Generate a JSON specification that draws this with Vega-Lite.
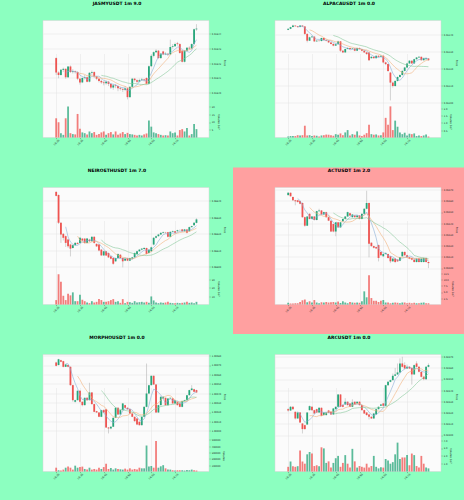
{
"$schema":"https://vega.github.io/schema/vega-lite/v6.json",
"background":"#8cffc0",
"padding":{"left":42,"top":0.5,"right":0,"bottom":20},
"datasets":{
"jasmy":[
{"i":0,"o":0.0164235,"h":0.016424,"l":0.016412,"c":0.0164137,"v":12.4},
{"i":1,"o":0.0164137,"h":0.0164145,"l":0.0164098,"c":0.016412,"v":9.8},
{"i":2,"o":0.016412,"h":0.016416,"l":0.0164115,"c":0.0164155,"v":2.8},
{"i":3,"o":0.0164155,"h":0.016417,"l":0.016414,"c":0.0164162,"v":1.7},
{"i":4,"o":0.0164162,"h":0.0164165,"l":0.0164095,"c":0.0164105,"v":12.4},
{"i":5,"o":0.0164105,"h":0.016418,"l":0.01641,"c":0.0164178,"v":20},
{"i":6,"o":0.0164178,"h":0.0164185,"l":0.0164135,"c":0.016414,"v":2.8},
{"i":7,"o":0.016414,"h":0.016416,"l":0.016413,"c":0.0164145,"v":2.2},
{"i":8,"o":0.0164145,"h":0.016415,"l":0.016413,"c":0.016414,"v":2},
{"i":9,"o":0.016414,"h":0.0164145,"l":0.0164085,"c":0.0164095,"v":15.2},
{"i":10,"o":0.0164095,"h":0.01641,"l":0.0164055,"c":0.016407,"v":5.7},
{"i":11,"o":0.016407,"h":0.0164105,"l":0.0164065,"c":0.01641,"v":3.3},
{"i":12,"o":0.01641,"h":0.016412,"l":0.016409,"c":0.0164105,"v":2.8},
{"i":13,"o":0.0164105,"h":0.016411,"l":0.016407,"c":0.0164075,"v":2},
{"i":14,"o":0.0164075,"h":0.016414,"l":0.016407,"c":0.0164135,"v":3.9},
{"i":15,"o":0.0164135,"h":0.016415,"l":0.016412,"c":0.016414,"v":2.8},
{"i":16,"o":0.016414,"h":0.0164145,"l":0.01641,"c":0.016411,"v":3.5},
{"i":17,"o":0.016411,"h":0.0164115,"l":0.0164085,"c":0.0164095,"v":1.7},
{"i":18,"o":0.0164095,"h":0.01641,"l":0.016407,"c":0.016408,"v":2.2},
{"i":19,"o":0.016408,"h":0.016409,"l":0.016406,"c":0.016407,"v":3.3},
{"i":20,"o":0.016407,"h":0.016408,"l":0.016405,"c":0.0164065,"v":3.9},
{"i":21,"o":0.0164065,"h":0.0164085,"l":0.0164055,"c":0.0164075,"v":1.7},
{"i":22,"o":0.0164075,"h":0.016408,"l":0.0164045,"c":0.016406,"v":2.8},
{"i":23,"o":0.016406,"h":0.0164065,"l":0.0164025,"c":0.0164035,"v":3.5},
{"i":24,"o":0.0164035,"h":0.016406,"l":0.016402,"c":0.016405,"v":2},
{"i":25,"o":0.016405,"h":0.016406,"l":0.016403,"c":0.0164045,"v":3.9},
{"i":26,"o":0.0164045,"h":0.016405,"l":0.016401,"c":0.016403,"v":1.7},
{"i":27,"o":0.016403,"h":0.016404,"l":0.0164015,"c":0.0164025,"v":2.6},
{"i":28,"o":0.0164025,"h":0.0164035,"l":0.0164005,"c":0.016402,"v":3.5},
{"i":29,"o":0.016402,"h":0.0164045,"l":0.016401,"c":0.016403,"v":2.2},
{"i":30,"o":0.016403,"h":0.0164035,"l":0.0163955,"c":0.016397,"v":3},
{"i":31,"o":0.016397,"h":0.0164045,"l":0.0163965,"c":0.016404,"v":2.2},
{"i":32,"o":0.016404,"h":0.01641,"l":0.0164035,"c":0.0164095,"v":2},
{"i":33,"o":0.0164095,"h":0.01641,"l":0.0164075,"c":0.0164085,"v":1.7},
{"i":34,"o":0.0164085,"h":0.016409,"l":0.0164065,"c":0.0164075,"v":1.3},
{"i":35,"o":0.0164075,"h":0.0164095,"l":0.016407,"c":0.0164085,"v":1.7},
{"i":36,"o":0.0164085,"h":0.01641,"l":0.016408,"c":0.016409,"v":1.3},
{"i":37,"o":0.016409,"h":0.0164095,"l":0.0164075,"c":0.0164085,"v":2},
{"i":38,"o":0.01641,"h":0.0164105,"l":0.0164055,"c":0.016406,"v":2.6},
{"i":39,"o":0.016406,"h":0.0164185,"l":0.0164055,"c":0.016418,"v":10.9},
{"i":40,"o":0.016418,"h":0.016426,"l":0.0164175,"c":0.016425,"v":7},
{"i":41,"o":0.016425,"h":0.016428,"l":0.016424,"c":0.0164275,"v":3.3},
{"i":42,"o":0.0164275,"h":0.0164295,"l":0.016427,"c":0.0164285,"v":2.8},
{"i":43,"o":0.0164285,"h":0.016429,"l":0.016423,"c":0.0164235,"v":2.2},
{"i":44,"o":0.0164235,"h":0.016427,"l":0.016423,"c":0.0164265,"v":1.7},
{"i":45,"o":0.016428,"h":0.0164285,"l":0.0164255,"c":0.016426,"v":1.3},
{"i":46,"o":0.016426,"h":0.0164275,"l":0.0164255,"c":0.0164265,"v":1.5},
{"i":47,"o":0.0164265,"h":0.016427,"l":0.016425,"c":0.016426,"v":1.3},
{"i":48,"o":0.016426,"h":0.016436,"l":0.0164255,"c":0.016431,"v":3.9},
{"i":49,"o":0.016431,"h":0.016433,"l":0.01643,"c":0.0164315,"v":2.8},
{"i":50,"o":0.0164315,"h":0.016434,"l":0.016431,"c":0.016433,"v":3.3},
{"i":51,"o":0.0164335,"h":0.0164345,"l":0.016432,"c":0.016433,"v":1.3},
{"i":52,"o":0.016433,"h":0.0164335,"l":0.0164265,"c":0.016427,"v":4.8},
{"i":53,"o":0.0164285,"h":0.016429,"l":0.0164205,"c":0.016421,"v":5.4},
{"i":54,"o":0.016421,"h":0.016429,"l":0.0164205,"c":0.0164285,"v":3.9},
{"i":55,"o":0.0164285,"h":0.016431,"l":0.016428,"c":0.0164305,"v":6.1},
{"i":56,"o":0.0164305,"h":0.0164315,"l":0.016429,"c":0.01643,"v":1.3},
{"i":57,"o":0.01643,"h":0.0164335,"l":0.0164295,"c":0.016433,"v":2.2},
{"i":58,"o":0.016433,"h":0.0164435,"l":0.0164325,"c":0.016443,"v":8.7},
{"i":59,"o":0.016443,"h":0.0164465,"l":0.016442,"c":0.0164435,"v":5.4}
],
"alpaca":[
{"i":0,"o":0.03143,"h":0.03144,"l":0.031428,"c":0.031436,"v":0.07},
{"i":1,"o":0.031436,"h":0.031448,"l":0.031434,"c":0.031446,"v":0.1},
{"i":2,"o":0.031446,"h":0.03146,"l":0.031444,"c":0.031455,"v":0.1},
{"i":3,"o":0.031455,"h":0.031457,"l":0.031448,"c":0.031451,"v":0.1},
{"i":4,"o":0.031451,"h":0.031453,"l":0.031444,"c":0.031446,"v":0.16},
{"i":5,"o":0.031446,"h":0.031457,"l":0.031444,"c":0.031455,"v":0.14},
{"i":6,"o":0.031455,"h":0.031457,"l":0.031446,"c":0.03145,"v":0.16},
{"i":7,"o":0.03145,"h":0.031452,"l":0.0314,"c":0.031406,"v":0.81},
{"i":8,"o":0.031406,"h":0.03141,"l":0.031356,"c":0.031366,"v":0.14},
{"i":9,"o":0.031366,"h":0.03139,"l":0.031364,"c":0.031386,"v":0.16},
{"i":10,"o":0.031386,"h":0.031395,"l":0.031382,"c":0.03139,"v":0.1},
{"i":11,"o":0.03139,"h":0.031392,"l":0.031358,"c":0.031362,"v":0.14},
{"i":12,"o":0.031362,"h":0.03137,"l":0.03136,"c":0.031366,"v":0.12},
{"i":13,"o":0.031366,"h":0.03137,"l":0.03136,"c":0.031364,"v":0.07},
{"i":14,"o":0.031364,"h":0.031384,"l":0.031362,"c":0.031382,"v":0.14},
{"i":15,"o":0.031382,"h":0.031384,"l":0.031366,"c":0.03137,"v":0.16},
{"i":16,"o":0.03137,"h":0.031374,"l":0.031362,"c":0.031366,"v":0.2},
{"i":17,"o":0.031366,"h":0.031368,"l":0.031352,"c":0.031356,"v":0.19},
{"i":18,"o":0.031356,"h":0.031358,"l":0.031344,"c":0.031347,"v":0.16},
{"i":19,"o":0.031347,"h":0.03135,"l":0.031333,"c":0.031337,"v":0.12},
{"i":20,"o":0.031337,"h":0.03135,"l":0.031335,"c":0.031345,"v":0.23},
{"i":21,"o":0.031345,"h":0.031366,"l":0.031343,"c":0.031362,"v":0.19},
{"i":22,"o":0.031362,"h":0.031364,"l":0.0313,"c":0.031307,"v":0.28},
{"i":23,"o":0.031307,"h":0.03131,"l":0.031293,"c":0.031297,"v":0.16},
{"i":24,"o":0.031297,"h":0.03132,"l":0.031295,"c":0.031317,"v":0.35},
{"i":25,"o":0.031317,"h":0.031327,"l":0.031315,"c":0.031323,"v":0.51},
{"i":26,"o":0.031323,"h":0.031325,"l":0.031313,"c":0.031317,"v":0.14},
{"i":27,"o":0.031317,"h":0.031323,"l":0.031314,"c":0.03132,"v":0.23},
{"i":28,"o":0.03132,"h":0.031322,"l":0.031304,"c":0.031307,"v":0.19},
{"i":29,"o":0.031307,"h":0.031325,"l":0.031305,"c":0.031323,"v":0.42},
{"i":30,"o":0.031323,"h":0.031326,"l":0.031314,"c":0.031317,"v":0.14},
{"i":31,"o":0.031317,"h":0.03132,"l":0.031304,"c":0.031307,"v":0.1},
{"i":32,"o":0.031307,"h":0.03131,"l":0.031294,"c":0.031297,"v":0.19},
{"i":33,"o":0.031297,"h":0.0313,"l":0.031283,"c":0.031287,"v":0.3},
{"i":34,"o":0.031297,"h":0.0313,"l":0.031247,"c":0.031251,"v":0.88},
{"i":35,"o":0.031263,"h":0.031275,"l":0.03126,"c":0.031271,"v":0.23},
{"i":36,"o":0.031271,"h":0.031274,"l":0.03126,"c":0.031263,"v":0.19},
{"i":37,"o":0.031263,"h":0.03128,"l":0.03126,"c":0.031277,"v":0.21},
{"i":38,"o":0.031277,"h":0.03128,"l":0.031268,"c":0.031271,"v":0.14},
{"i":39,"o":0.031271,"h":0.03128,"l":0.031268,"c":0.031277,"v":0.16},
{"i":40,"o":0.031277,"h":0.03128,"l":0.031233,"c":0.031238,"v":0.35},
{"i":41,"o":0.031238,"h":0.031242,"l":0.031222,"c":0.031228,"v":1.35},
{"i":42,"o":0.031228,"h":0.03123,"l":0.031182,"c":0.031188,"v":0.88},
{"i":43,"o":0.031178,"h":0.031182,"l":0.031014,"c":0.031119,"v":2.14},
{"i":44,"o":0.031119,"h":0.031125,"l":0.03109,"c":0.031099,"v":0.51},
{"i":45,"o":0.031099,"h":0.031132,"l":0.031095,"c":0.031129,"v":1.16},
{"i":46,"o":0.031129,"h":0.031156,"l":0.031125,"c":0.031152,"v":0.74},
{"i":47,"o":0.031152,"h":0.031168,"l":0.031148,"c":0.031164,"v":0.35},
{"i":48,"o":0.031164,"h":0.031192,"l":0.03116,"c":0.031188,"v":0.23},
{"i":49,"o":0.031188,"h":0.031212,"l":0.031185,"c":0.031208,"v":0.33},
{"i":50,"o":0.031208,"h":0.031236,"l":0.031205,"c":0.031232,"v":0.14},
{"i":51,"o":0.031232,"h":0.031252,"l":0.031228,"c":0.031248,"v":0.26},
{"i":52,"o":0.031248,"h":0.03125,"l":0.031228,"c":0.031232,"v":0.23},
{"i":53,"o":0.031232,"h":0.03126,"l":0.03123,"c":0.031257,"v":0.28},
{"i":54,"o":0.031257,"h":0.03127,"l":0.031254,"c":0.031267,"v":0.1},
{"i":55,"o":0.031267,"h":0.031274,"l":0.031264,"c":0.031271,"v":0.14},
{"i":56,"o":0.031271,"h":0.031273,"l":0.031248,"c":0.031251,"v":0.1},
{"i":57,"o":0.031251,"h":0.031266,"l":0.031248,"c":0.031263,"v":0.14},
{"i":58,"o":0.031257,"h":0.031267,"l":0.031254,"c":0.031263,"v":0.2},
{"i":59,"o":0.031261,"h":0.031264,"l":0.031248,"c":0.031251,"v":0.07}
],
"neiro":[
{"i":0,"o":0.066455,"h":0.06646,"l":0.066428,"c":0.066431,"v":5.3},
{"i":1,"o":0.066437,"h":0.06644,"l":0.06626,"c":0.066267,"v":36.4},
{"i":2,"o":0.066267,"h":0.06627,"l":0.066145,"c":0.066196,"v":27.5},
{"i":3,"o":0.0662,"h":0.066205,"l":0.06616,"c":0.066176,"v":10.5},
{"i":4,"o":0.066186,"h":0.06619,"l":0.06612,"c":0.066145,"v":5.3},
{"i":5,"o":0.066165,"h":0.06617,"l":0.066115,"c":0.066124,"v":13},
{"i":6,"o":0.066135,"h":0.06614,"l":0.066063,"c":0.06611,"v":11},
{"i":7,"o":0.066114,"h":0.066135,"l":0.06611,"c":0.066131,"v":14.6},
{"i":8,"o":0.066131,"h":0.06615,"l":0.066128,"c":0.066145,"v":4},
{"i":9,"o":0.066145,"h":0.06615,"l":0.066135,"c":0.066139,"v":4},
{"i":10,"o":0.066145,"h":0.06618,"l":0.066142,"c":0.066176,"v":11.7},
{"i":11,"o":0.066171,"h":0.066175,"l":0.066155,"c":0.066159,"v":5.7},
{"i":12,"o":0.066171,"h":0.066175,"l":0.06614,"c":0.066145,"v":4},
{"i":13,"o":0.066145,"h":0.066175,"l":0.066142,"c":0.066171,"v":2.4},
{"i":14,"o":0.066165,"h":0.06617,"l":0.06615,"c":0.066155,"v":1.6},
{"i":15,"o":0.066155,"h":0.066186,"l":0.066152,"c":0.066182,"v":4},
{"i":16,"o":0.066182,"h":0.066186,"l":0.06614,"c":0.066145,"v":2.4},
{"i":17,"o":0.066139,"h":0.066142,"l":0.06612,"c":0.066124,"v":3.2},
{"i":18,"o":0.066135,"h":0.066138,"l":0.066094,"c":0.066098,"v":6.5},
{"i":19,"o":0.066104,"h":0.066108,"l":0.066065,"c":0.066069,"v":5.3},
{"i":20,"o":0.066069,"h":0.066098,"l":0.066065,"c":0.066094,"v":3.2},
{"i":21,"o":0.066094,"h":0.066096,"l":0.066065,"c":0.066069,"v":3.2},
{"i":22,"o":0.066084,"h":0.066086,"l":0.066053,"c":0.066057,"v":4},
{"i":23,"o":0.066063,"h":0.066066,"l":0.066045,"c":0.066049,"v":5.3},
{"i":24,"o":0.066053,"h":0.066056,"l":0.066012,"c":0.066018,"v":6.5},
{"i":25,"o":0.066033,"h":0.066056,"l":0.06603,"c":0.066053,"v":3.2},
{"i":26,"o":0.066053,"h":0.066082,"l":0.06605,"c":0.066078,"v":4},
{"i":27,"o":0.066073,"h":0.066076,"l":0.06605,"c":0.066053,"v":2},
{"i":28,"o":0.066053,"h":0.066056,"l":0.065996,"c":0.066033,"v":6.5},
{"i":29,"o":0.066037,"h":0.066052,"l":0.066034,"c":0.066049,"v":1.6},
{"i":30,"o":0.066053,"h":0.066056,"l":0.066034,"c":0.066037,"v":3.2},
{"i":31,"o":0.066037,"h":0.066056,"l":0.066034,"c":0.066053,"v":2.8},
{"i":32,"o":0.066049,"h":0.06606,"l":0.066045,"c":0.066057,"v":2},
{"i":33,"o":0.066057,"h":0.066086,"l":0.066055,"c":0.066084,"v":4},
{"i":34,"o":0.066078,"h":0.066098,"l":0.066075,"c":0.066094,"v":2.4},
{"i":35,"o":0.066094,"h":0.066108,"l":0.066092,"c":0.066104,"v":2.8},
{"i":36,"o":0.066104,"h":0.066114,"l":0.0661,"c":0.06611,"v":3.2},
{"i":37,"o":0.066108,"h":0.06612,"l":0.066105,"c":0.066114,"v":2.4},
{"i":38,"o":0.066114,"h":0.066116,"l":0.066075,"c":0.066078,"v":3.2},
{"i":39,"o":0.066084,"h":0.066108,"l":0.06608,"c":0.066104,"v":2},
{"i":40,"o":0.066094,"h":0.066122,"l":0.06609,"c":0.066118,"v":9.7},
{"i":41,"o":0.066135,"h":0.06618,"l":0.06613,"c":0.066176,"v":4.9},
{"i":42,"o":0.066176,"h":0.06619,"l":0.066172,"c":0.066186,"v":2.4},
{"i":43,"o":0.066186,"h":0.0662,"l":0.066182,"c":0.066196,"v":1.6},
{"i":44,"o":0.066196,"h":0.06621,"l":0.066192,"c":0.066206,"v":2.4},
{"i":45,"o":0.066206,"h":0.066214,"l":0.066202,"c":0.06621,"v":2},
{"i":46,"o":0.066208,"h":0.066212,"l":0.066202,"c":0.066206,"v":2.4},
{"i":47,"o":0.06621,"h":0.066212,"l":0.066178,"c":0.066182,"v":3.2},
{"i":48,"o":0.066182,"h":0.066216,"l":0.06618,"c":0.066212,"v":2},
{"i":49,"o":0.066212,"h":0.06622,"l":0.06621,"c":0.066216,"v":1.6},
{"i":50,"o":0.066216,"h":0.066218,"l":0.066202,"c":0.066206,"v":1.6},
{"i":51,"o":0.066216,"h":0.066225,"l":0.066212,"c":0.066222,"v":2},
{"i":52,"o":0.066222,"h":0.066227,"l":0.066218,"c":0.066222,"v":1.6},
{"i":53,"o":0.066227,"h":0.06623,"l":0.066212,"c":0.066216,"v":2},
{"i":54,"o":0.066216,"h":0.06623,"l":0.066212,"c":0.066227,"v":2.4},
{"i":55,"o":0.066227,"h":0.06623,"l":0.066202,"c":0.066206,"v":3.2},
{"i":56,"o":0.066216,"h":0.066244,"l":0.066212,"c":0.066241,"v":2},
{"i":57,"o":0.066241,"h":0.06625,"l":0.066238,"c":0.066247,"v":2.4},
{"i":58,"o":0.066253,"h":0.06627,"l":0.06625,"c":0.066267,"v":1.6},
{"i":59,"o":0.066267,"h":0.066295,"l":0.066264,"c":0.066288,"v":3.2}
],
"act":[
{"i":0,"o":0.055652,"h":0.05568,"l":0.055648,"c":0.055673,"v":0.7},
{"i":1,"o":0.055673,"h":0.055676,"l":0.055638,"c":0.055642,"v":0.4},
{"i":2,"o":0.055636,"h":0.05564,"l":0.0556,"c":0.055606,"v":0.4},
{"i":3,"o":0.055606,"h":0.05561,"l":0.055561,"c":0.055597,"v":0.5},
{"i":4,"o":0.055606,"h":0.05561,"l":0.055585,"c":0.055591,"v":0.5},
{"i":5,"o":0.0556,"h":0.055604,"l":0.05557,"c":0.055576,"v":1},
{"i":6,"o":0.055582,"h":0.055586,"l":0.05545,"c":0.055455,"v":1.7},
{"i":7,"o":0.055455,"h":0.05546,"l":0.05537,"c":0.055379,"v":2},
{"i":8,"o":0.055379,"h":0.055465,"l":0.055375,"c":0.055461,"v":0.9},
{"i":9,"o":0.055485,"h":0.05549,"l":0.055435,"c":0.055439,"v":1.3},
{"i":10,"o":0.055439,"h":0.055465,"l":0.055435,"c":0.055461,"v":0.8},
{"i":11,"o":0.055461,"h":0.055465,"l":0.055425,"c":0.05543,"v":1.8},
{"i":12,"o":0.05543,"h":0.055512,"l":0.055426,"c":0.055509,"v":0.8},
{"i":13,"o":0.055509,"h":0.05553,"l":0.055505,"c":0.055515,"v":0.5},
{"i":14,"o":0.055515,"h":0.055518,"l":0.055475,"c":0.055479,"v":0.9},
{"i":15,"o":0.055479,"h":0.055504,"l":0.055476,"c":0.0555,"v":0.8},
{"i":16,"o":0.0555,"h":0.055504,"l":0.05545,"c":0.055455,"v":1},
{"i":17,"o":0.055455,"h":0.05546,"l":0.05542,"c":0.055424,"v":0.8},
{"i":18,"o":0.055424,"h":0.055428,"l":0.055322,"c":0.055327,"v":0.9},
{"i":19,"o":0.055394,"h":0.055398,"l":0.05532,"c":0.055327,"v":1},
{"i":20,"o":0.055327,"h":0.055412,"l":0.055285,"c":0.055409,"v":0.8},
{"i":21,"o":0.055409,"h":0.055412,"l":0.05536,"c":0.055364,"v":1.2},
{"i":22,"o":0.055364,"h":0.055412,"l":0.05536,"c":0.055409,"v":0.6},
{"i":23,"o":0.055418,"h":0.055442,"l":0.055415,"c":0.055439,"v":1.3},
{"i":24,"o":0.055439,"h":0.055465,"l":0.055435,"c":0.055461,"v":0.8},
{"i":25,"o":0.055461,"h":0.055504,"l":0.055458,"c":0.0555,"v":0.5},
{"i":26,"o":0.055491,"h":0.055495,"l":0.055465,"c":0.05547,"v":1},
{"i":27,"o":0.055455,"h":0.055482,"l":0.05545,"c":0.055479,"v":0.8},
{"i":28,"o":0.05547,"h":0.055474,"l":0.05545,"c":0.055455,"v":0.7},
{"i":29,"o":0.055455,"h":0.055474,"l":0.05545,"c":0.05547,"v":0.8},
{"i":30,"o":0.05547,"h":0.055474,"l":0.055435,"c":0.055439,"v":0.7},
{"i":31,"o":0.055439,"h":0.055488,"l":0.055435,"c":0.055485,"v":1.3},
{"i":32,"o":0.055485,"h":0.055535,"l":0.05548,"c":0.05553,"v":5.3},
{"i":33,"o":0.05553,"h":0.055691,"l":0.055525,"c":0.055582,"v":2.9},
{"i":34,"o":0.055582,"h":0.055586,"l":0.055097,"c":0.055218,"v":11.8},
{"i":35,"o":0.055227,"h":0.05523,"l":0.05519,"c":0.055197,"v":2.6},
{"i":36,"o":0.055197,"h":0.0552,"l":0.055176,"c":0.055182,"v":1.5},
{"i":37,"o":0.055188,"h":0.055192,"l":0.05517,"c":0.055176,"v":1.5},
{"i":38,"o":0.055206,"h":0.05521,"l":0.05506,"c":0.055091,"v":1},
{"i":39,"o":0.055145,"h":0.05515,"l":0.05511,"c":0.055115,"v":1.5},
{"i":40,"o":0.055106,"h":0.05513,"l":0.0551,"c":0.055127,"v":1.8},
{"i":41,"o":0.055127,"h":0.05514,"l":0.05512,"c":0.055136,"v":0.8},
{"i":42,"o":0.055127,"h":0.05513,"l":0.055085,"c":0.055091,"v":0.8},
{"i":43,"o":0.055106,"h":0.05511,"l":0.055045,"c":0.055061,"v":0.5},
{"i":44,"o":0.055061,"h":0.05509,"l":0.055055,"c":0.055085,"v":0.7},
{"i":45,"o":0.055085,"h":0.05509,"l":0.055045,"c":0.055055,"v":0.8},
{"i":46,"o":0.055076,"h":0.05508,"l":0.055055,"c":0.055061,"v":0.7},
{"i":47,"o":0.055067,"h":0.0551,"l":0.055062,"c":0.055097,"v":0.5},
{"i":48,"o":0.055106,"h":0.05515,"l":0.0551,"c":0.055145,"v":0.8},
{"i":49,"o":0.055145,"h":0.055148,"l":0.05511,"c":0.055115,"v":0.8},
{"i":50,"o":0.055115,"h":0.05512,"l":0.055092,"c":0.055097,"v":0.5},
{"i":51,"o":0.055097,"h":0.0551,"l":0.05508,"c":0.055085,"v":0.7},
{"i":52,"o":0.055091,"h":0.055095,"l":0.05507,"c":0.055076,"v":0.5},
{"i":53,"o":0.055076,"h":0.05508,"l":0.05505,"c":0.055055,"v":0.7},
{"i":54,"o":0.055055,"h":0.05509,"l":0.05505,"c":0.055085,"v":0.5},
{"i":55,"o":0.055085,"h":0.05509,"l":0.05505,"c":0.055055,"v":0.5},
{"i":56,"o":0.055055,"h":0.05509,"l":0.05505,"c":0.055085,"v":0.7},
{"i":57,"o":0.055055,"h":0.055095,"l":0.05505,"c":0.055091,"v":0.8},
{"i":58,"o":0.055091,"h":0.055095,"l":0.05505,"c":0.055055,"v":0.5},
{"i":59,"o":0.055055,"h":0.05506,"l":0.055,"c":0.055045,"v":0.5}
],
"morpho":[
{"i":0,"o":1.000727,"h":1.000735,"l":1.000685,"c":1.000691,"v":60000},
{"i":1,"o":1.000699,"h":1.000766,"l":1.000695,"c":1.000762,"v":20000},
{"i":2,"o":1.000752,"h":1.000756,"l":1.00073,"c":1.000734,"v":15000},
{"i":3,"o":1.000741,"h":1.000745,"l":1.000675,"c":1.000681,"v":30000},
{"i":4,"o":1.000681,"h":1.00071,"l":1.000678,"c":1.000706,"v":60000},
{"i":5,"o":1.000699,"h":1.000703,"l":1.000675,"c":1.000681,"v":77000},
{"i":6,"o":1.000681,"h":1.000685,"l":1.00048,"c":1.000486,"v":60000},
{"i":7,"o":1.000486,"h":1.00049,"l":1.00031,"c":1.000326,"v":30000},
{"i":8,"o":1.000309,"h":1.00033,"l":1.0003,"c":1.000326,"v":92000},
{"i":9,"o":1.000326,"h":1.00043,"l":1.000322,"c":1.000426,"v":60000},
{"i":10,"o":1.000426,"h":1.00043,"l":1.0003,"c":1.000309,"v":70000},
{"i":11,"o":1.000309,"h":1.000312,"l":1.00026,"c":1.000273,"v":77000},
{"i":12,"o":1.000273,"h":1.000355,"l":1.00027,"c":1.000351,"v":40000},
{"i":13,"o":1.000351,"h":1.000355,"l":1.00032,"c":1.000326,"v":30000},
{"i":14,"o":1.000326,"h":1.000511,"l":1.000322,"c":1.000408,"v":60000},
{"i":15,"o":1.000408,"h":1.000412,"l":1.00028,"c":1.000284,"v":30000},
{"i":16,"o":1.000284,"h":1.000288,"l":1.000198,"c":1.000202,"v":40000},
{"i":17,"o":1.000209,"h":1.000212,"l":1.00019,"c":1.000195,"v":30000},
{"i":18,"o":1.000195,"h":1.000198,"l":1.000145,"c":1.000149,"v":60000},
{"i":19,"o":1.000149,"h":1.000224,"l":1.000145,"c":1.00022,"v":40000},
{"i":20,"o":1.00022,"h":1.00023,"l":1.00019,"c":1.000195,"v":70000},
{"i":21,"o":1.00023,"h":1.000234,"l":1.00003,"c":1.000035,"v":123000},
{"i":22,"o":1.000035,"h":1.00004,"l":0.999972,"c":1.000025,"v":40000},
{"i":23,"o":1.000025,"h":1.00005,"l":1.000015,"c":1.000043,"v":55000},
{"i":24,"o":1.000043,"h":1.000142,"l":1.00004,"c":1.000138,"v":30000},
{"i":25,"o":1.000138,"h":1.00025,"l":1.000135,"c":1.000245,"v":50000},
{"i":26,"o":1.000245,"h":1.00025,"l":1.00017,"c":1.000174,"v":40000},
{"i":27,"o":1.000174,"h":1.000225,"l":1.00017,"c":1.00022,"v":35000},
{"i":28,"o":1.00022,"h":1.000295,"l":1.000215,"c":1.000291,"v":30000},
{"i":29,"o":1.000273,"h":1.000277,"l":1.00024,"c":1.000245,"v":45000},
{"i":30,"o":1.000245,"h":1.00025,"l":1.000225,"c":1.00023,"v":30000},
{"i":31,"o":1.00023,"h":1.000235,"l":1.00018,"c":1.000184,"v":50000},
{"i":32,"o":1.000184,"h":1.000188,"l":1.000145,"c":1.000149,"v":30000},
{"i":33,"o":1.000149,"h":1.000152,"l":1.000095,"c":1.000103,"v":40000},
{"i":34,"o":1.000131,"h":1.000135,"l":1.00006,"c":1.000067,"v":30000},
{"i":35,"o":1.000096,"h":1.0001,"l":1.000055,"c":1.00006,"v":60000},
{"i":36,"o":1.00006,"h":1.000152,"l":1.000055,"c":1.000149,"v":50000},
{"i":37,"o":1.000149,"h":1.00026,"l":1.000145,"c":1.000255,"v":50000},
{"i":38,"o":1.000255,"h":1.000716,"l":1.00025,"c":1.000397,"v":410000},
{"i":39,"o":1.000397,"h":1.00049,"l":1.00039,"c":1.000486,"v":77000},
{"i":40,"o":1.000486,"h":1.00059,"l":1.00048,"c":1.000585,"v":87000},
{"i":41,"o":1.000585,"h":1.00059,"l":1.000488,"c":1.000493,"v":60000},
{"i":42,"o":1.000493,"h":1.000497,"l":1.00019,"c":1.000195,"v":480000},
{"i":43,"o":1.000195,"h":1.000277,"l":1.00019,"c":1.000273,"v":60000},
{"i":44,"o":1.000273,"h":1.000366,"l":1.00027,"c":1.000362,"v":82000},
{"i":45,"o":1.000344,"h":1.00037,"l":1.00034,"c":1.000362,"v":100000},
{"i":46,"o":1.000351,"h":1.000355,"l":1.00027,"c":1.000273,"v":50000},
{"i":47,"o":1.000273,"h":1.000348,"l":1.00027,"c":1.000344,"v":30000},
{"i":48,"o":1.000344,"h":1.000355,"l":1.00034,"c":1.000351,"v":30000},
{"i":49,"o":1.000344,"h":1.000348,"l":1.000288,"c":1.000291,"v":20000},
{"i":50,"o":1.000291,"h":1.00033,"l":1.000288,"c":1.000326,"v":15000},
{"i":51,"o":1.000309,"h":1.000312,"l":1.00027,"c":1.000273,"v":20000},
{"i":52,"o":1.000291,"h":1.000295,"l":1.00025,"c":1.000255,"v":20000},
{"i":53,"o":1.000255,"h":1.00032,"l":1.00025,"c":1.000316,"v":20000},
{"i":54,"o":1.000316,"h":1.00033,"l":1.000312,"c":1.000326,"v":15000},
{"i":55,"o":1.000326,"h":1.000382,"l":1.000322,"c":1.000379,"v":25000},
{"i":56,"o":1.000379,"h":1.000437,"l":1.000375,"c":1.000433,"v":20000},
{"i":57,"o":1.000433,"h":1.000486,"l":1.00043,"c":1.00045,"v":30000},
{"i":58,"o":1.000443,"h":1.000447,"l":1.00041,"c":1.000415,"v":20000},
{"i":59,"o":1.000433,"h":1.000437,"l":1.000405,"c":1.000408,"v":15000}
],
"arc":[
{"i":0,"o":0.025232,"h":0.02524,"l":0.02521,"c":0.02522,"v":0.6},
{"i":1,"o":0.02522,"h":0.02526,"l":0.025215,"c":0.025253,"v":1.28},
{"i":2,"o":0.025253,"h":0.025256,"l":0.025228,"c":0.025232,"v":0.68},
{"i":3,"o":0.025208,"h":0.025212,"l":0.02514,"c":0.025149,"v":0.6},
{"i":4,"o":0.025149,"h":0.025206,"l":0.025145,"c":0.025202,"v":0.68},
{"i":5,"o":0.025202,"h":0.025206,"l":0.025108,"c":0.025113,"v":2.7},
{"i":6,"o":0.025104,"h":0.025108,"l":0.025015,"c":0.025054,"v":1.28},
{"i":7,"o":0.025089,"h":0.025093,"l":0.02505,"c":0.025054,"v":1},
{"i":8,"o":0.025095,"h":0.025206,"l":0.02509,"c":0.025202,"v":2.2},
{"i":9,"o":0.025223,"h":0.025265,"l":0.02522,"c":0.025259,"v":2.5},
{"i":10,"o":0.025253,"h":0.025257,"l":0.02522,"c":0.025223,"v":2.3},
{"i":11,"o":0.025223,"h":0.025227,"l":0.02519,"c":0.025193,"v":0.7},
{"i":12,"o":0.025232,"h":0.025236,"l":0.025198,"c":0.025202,"v":0.8},
{"i":13,"o":0.025202,"h":0.025248,"l":0.025198,"c":0.025244,"v":0.68},
{"i":14,"o":0.025244,"h":0.025248,"l":0.02517,"c":0.025173,"v":3.1},
{"i":15,"o":0.025179,"h":0.025206,"l":0.025175,"c":0.025202,"v":2.96},
{"i":16,"o":0.025179,"h":0.025206,"l":0.025175,"c":0.025202,"v":1.1},
{"i":17,"o":0.02522,"h":0.025225,"l":0.025195,"c":0.0252,"v":1.3},
{"i":18,"o":0.025208,"h":0.025212,"l":0.02518,"c":0.025185,"v":0.5},
{"i":19,"o":0.025185,"h":0.025242,"l":0.02518,"c":0.025238,"v":1.1},
{"i":20,"o":0.025232,"h":0.025257,"l":0.025228,"c":0.025253,"v":1.7},
{"i":21,"o":0.025253,"h":0.025367,"l":0.02525,"c":0.025363,"v":2},
{"i":22,"o":0.025363,"h":0.025367,"l":0.02525,"c":0.025253,"v":0.6},
{"i":23,"o":0.025268,"h":0.025275,"l":0.025248,"c":0.025253,"v":1.1},
{"i":24,"o":0.025274,"h":0.02533,"l":0.02527,"c":0.025298,"v":2.1},
{"i":25,"o":0.025298,"h":0.025302,"l":0.025264,"c":0.025268,"v":1},
{"i":26,"o":0.025283,"h":0.025287,"l":0.02525,"c":0.025253,"v":0.5},
{"i":27,"o":0.025253,"h":0.02532,"l":0.02525,"c":0.025292,"v":2.9},
{"i":28,"o":0.025298,"h":0.025302,"l":0.02527,"c":0.025274,"v":1.3},
{"i":29,"o":0.025283,"h":0.025302,"l":0.02528,"c":0.025298,"v":0.5},
{"i":30,"o":0.025298,"h":0.025302,"l":0.025264,"c":0.025268,"v":0.7},
{"i":31,"o":0.025268,"h":0.025272,"l":0.02522,"c":0.025223,"v":0.6},
{"i":32,"o":0.025223,"h":0.025227,"l":0.02519,"c":0.025193,"v":0.5},
{"i":33,"o":0.025202,"h":0.025206,"l":0.025175,"c":0.025179,"v":1},
{"i":34,"o":0.025185,"h":0.025188,"l":0.02514,"c":0.025164,"v":0.5},
{"i":35,"o":0.025164,"h":0.025168,"l":0.025145,"c":0.025149,"v":0.7},
{"i":36,"o":0.025149,"h":0.025197,"l":0.025145,"c":0.025193,"v":2},
{"i":37,"o":0.025185,"h":0.025236,"l":0.02518,"c":0.025232,"v":0.6},
{"i":38,"o":0.025232,"h":0.025257,"l":0.025228,"c":0.025253,"v":0.4},
{"i":39,"o":0.025262,"h":0.02528,"l":0.02526,"c":0.025274,"v":0.55},
{"i":40,"o":0.025283,"h":0.025287,"l":0.025258,"c":0.025262,"v":0.5},
{"i":41,"o":0.025262,"h":0.02545,"l":0.025258,"c":0.025446,"v":1.6},
{"i":42,"o":0.025446,"h":0.02548,"l":0.025442,"c":0.025476,"v":1.4},
{"i":43,"o":0.025476,"h":0.025495,"l":0.025472,"c":0.025491,"v":1},
{"i":44,"o":0.025491,"h":0.02555,"l":0.025488,"c":0.02553,"v":1.2},
{"i":45,"o":0.02553,"h":0.0256,"l":0.025526,"c":0.025542,"v":2.2},
{"i":46,"o":0.025542,"h":0.02564,"l":0.025538,"c":0.02556,"v":3.7},
{"i":47,"o":0.02556,"h":0.025685,"l":0.025556,"c":0.02564,"v":1.6},
{"i":48,"o":0.02564,"h":0.0257,"l":0.025605,"c":0.02561,"v":1.8},
{"i":49,"o":0.025625,"h":0.02565,"l":0.02559,"c":0.025595,"v":1.8},
{"i":50,"o":0.025595,"h":0.02563,"l":0.02559,"c":0.02561,"v":2.1},
{"i":51,"o":0.02561,"h":0.025614,"l":0.02559,"c":0.025595,"v":0.8},
{"i":52,"o":0.025601,"h":0.025605,"l":0.025452,"c":0.025542,"v":2.3},
{"i":53,"o":0.025542,"h":0.02563,"l":0.025538,"c":0.025625,"v":2.1},
{"i":54,"o":0.02564,"h":0.02566,"l":0.025605,"c":0.02561,"v":0.7},
{"i":55,"o":0.02561,"h":0.025614,"l":0.02556,"c":0.025565,"v":0.5},
{"i":56,"o":0.025565,"h":0.02557,"l":0.025515,"c":0.025521,"v":2},
{"i":57,"o":0.025521,"h":0.02553,"l":0.02549,"c":0.0255,"v":1},
{"i":58,"o":0.0255,"h":0.025614,"l":0.025495,"c":0.02561,"v":0.5},
{"i":59,"o":0.02561,"h":0.02564,"l":0.025605,"c":0.025625,"v":0.4}
]
},
"columns":2,
"spacing":{"row":50,"column":66},
"bounds":"flush",
"concat":[
{"width":166,"height":117,"title":{"text":"JASMYUSDT 1m 9.0","anchor":"middle","frame":"group","dx":-9,"offset":15},"data":{"name":"jasmy"},
"encoding":{"x":{"field":"i","type":"quantitative","scale":{"domain":[-3.44,62.17],"nice":false,"zero":false},"axis":{"values":[0,10,20,30,40,50],"tickCount":20,"labelExpr":"['15:20','15:30','15:40','15:50','16:00','16:10'][datum.value/10]","labelAngle":-45,"labelAlign":"center","labelBaseline":"middle","labelPadding":3.5,"labelFontSize":2.6,"title":null,"grid":true}}},
"layer":[
{"data":{"values":[{"panel":"ACTUSDT"}]},"mark":{"type":"rect","color":"#ffa0a0"},"encoding":{"x":{"value":190},"x2":{"value":422},"y":{"value":147},"y2":{"value":313.5}}},
{"layer":[
{"mark":{"type":"rule","color":"#a8a8a8","strokeWidth":0.5},"encoding":{"y":{"field":"l","type":"quantitative","scale":{"domain":[0.016392,0.016449],"range":[84,0],"nice":false,"zero":false},"axis":{"orient":"right","values":[0.0164,0.01641,0.01642,0.01643,0.01644],"tickCount":20,"format":".5f","title":"Price","labelOverlap":false}},"y2":{"field":"h"}}},
{"mark":{"type":"bar","size":1.8},"encoding":{"y":{"field":"o","type":"quantitative"},"y2":{"field":"c"},"color":{"condition":{"test":"datum.c >= datum.o","value":"#26a67a"},"value":"#ef5350"}}},
{"transform":[{"window":[{"op":"mean","field":"c","as":"ma"},{"op":"count","as":"n"}],"frame":[-4,0],"sort":[{"field":"i"}]},{"filter":"datum.n >= 5"}],"mark":{"type":"line","color":"#8aaed6","strokeWidth":0.6},"encoding":{"y":{"field":"ma","type":"quantitative"}}},
{"transform":[{"window":[{"op":"mean","field":"c","as":"ma"},{"op":"count","as":"n"}],"frame":[-9,0],"sort":[{"field":"i"}]},{"filter":"datum.n >= 10"}],"mark":{"type":"line","color":"#f2b27c","strokeWidth":0.6},"encoding":{"y":{"field":"ma","type":"quantitative"}}},
{"transform":[{"window":[{"op":"mean","field":"c","as":"ma"},{"op":"count","as":"n"}],"frame":[-19,0],"sort":[{"field":"i"}]},{"filter":"datum.n >= 20"}],"mark":{"type":"line","color":"#86c79a","strokeWidth":0.6},"encoding":{"y":{"field":"ma","type":"quantitative"}}}
]},
{"layer":[
{"mark":{"type":"bar","size":1.8,"opacity":0.75},"encoding":{"y":{"field":"v","type":"quantitative","scale":{"domain":[0,20.65],"range":[117,85],"nice":false},"axis":{"orient":"right","values":[5,10,15,20],"tickCount":20,"title":"Volume  1e7","labelOverlap":false}},"color":{"condition":{"test":"datum.c >= datum.o","value":"#26a67a"},"value":"#ef5350"}}},
{"data":{"values":[{"edge":20.65}]},"mark":{"type":"rule","color":"#c8c8c8","strokeWidth":0.8},"encoding":{"y":{"field":"edge","type":"quantitative"}}}
]}
],
"resolve":{"scale":{"y":"independent"},"axis":{"y":"independent"}}},
{"width":166,"height":117,"title":{"text":"ALPACAUSDT 1m 0.0","anchor":"middle","frame":"group","dx":-9,"offset":15},"data":{"name":"alpaca"},
"encoding":{"x":{"field":"i","type":"quantitative","scale":{"domain":[-3.44,62.17],"nice":false,"zero":false},"axis":{"values":[0,10,20,30,40,50],"tickCount":20,"labelExpr":"['15:20','15:30','15:40','15:50','16:00','16:10'][datum.value/10]","labelAngle":-45,"labelAlign":"center","labelBaseline":"middle","labelPadding":3.5,"labelFontSize":2.6,"title":null,"grid":true}}},
"layer":[
{"layer":[
{"mark":{"type":"rule","color":"#a8a8a8","strokeWidth":0.5},"encoding":{"y":{"field":"l","type":"quantitative","scale":{"domain":[0.03099,0.031485],"range":[84,0],"nice":false,"zero":false},"axis":{"orient":"right","values":[0.031,0.0311,0.0312,0.0313,0.0314],"tickCount":20,"format":".5f","title":"Price","labelOverlap":false}},"y2":{"field":"h"}}},
{"mark":{"type":"bar","size":1.8},"encoding":{"y":{"field":"o","type":"quantitative"},"y2":{"field":"c"},"color":{"condition":{"test":"datum.c >= datum.o","value":"#26a67a"},"value":"#ef5350"}}},
{"transform":[{"window":[{"op":"mean","field":"c","as":"ma"},{"op":"count","as":"n"}],"frame":[-4,0],"sort":[{"field":"i"}]},{"filter":"datum.n >= 5"}],"mark":{"type":"line","color":"#8aaed6","strokeWidth":0.6},"encoding":{"y":{"field":"ma","type":"quantitative"}}},
{"transform":[{"window":[{"op":"mean","field":"c","as":"ma"},{"op":"count","as":"n"}],"frame":[-9,0],"sort":[{"field":"i"}]},{"filter":"datum.n >= 10"}],"mark":{"type":"line","color":"#f2b27c","strokeWidth":0.6},"encoding":{"y":{"field":"ma","type":"quantitative"}}},
{"transform":[{"window":[{"op":"mean","field":"c","as":"ma"},{"op":"count","as":"n"}],"frame":[-19,0],"sort":[{"field":"i"}]},{"filter":"datum.n >= 20"}],"mark":{"type":"line","color":"#86c79a","strokeWidth":0.6},"encoding":{"y":{"field":"ma","type":"quantitative"}}}
]},
{"layer":[
{"mark":{"type":"bar","size":1.8,"opacity":0.75},"encoding":{"y":{"field":"v","type":"quantitative","scale":{"domain":[0,2.2],"range":[117,85],"nice":false},"axis":{"orient":"right","values":[0.5,1,1.5,2],"tickCount":20,"format":".1f","title":"Volume  1e7","labelOverlap":false}},"color":{"condition":{"test":"datum.c >= datum.o","value":"#26a67a"},"value":"#ef5350"}}},
{"data":{"values":[{"edge":2.2}]},"mark":{"type":"rule","color":"#c8c8c8","strokeWidth":0.8},"encoding":{"y":{"field":"edge","type":"quantitative"}}}
]}
],
"resolve":{"scale":{"y":"independent"},"axis":{"y":"independent"}}},
{"width":166,"height":117,"title":{"text":"NEIROETHUSDT 1m 7.0","anchor":"middle","frame":"group","dx":-9,"offset":15},"data":{"name":"neiro"},
"encoding":{"x":{"field":"i","type":"quantitative","scale":{"domain":[-3.44,62.17],"nice":false,"zero":false},"axis":{"values":[0,10,20,30,40,50],"tickCount":20,"labelExpr":"['15:20','15:30','15:40','15:50','16:00','16:10'][datum.value/10]","labelAngle":-45,"labelAlign":"center","labelBaseline":"middle","labelPadding":3.5,"labelFontSize":2.6,"title":null,"grid":true}}},
"layer":[
{"layer":[
{"mark":{"type":"rule","color":"#a8a8a8","strokeWidth":0.5},"encoding":{"y":{"field":"l","type":"quantitative","scale":{"domain":[0.065971,0.066482],"range":[84,0],"nice":false,"zero":false},"axis":{"orient":"right","values":[0.066,0.0661,0.0662,0.0663,0.0664],"tickCount":20,"format":".5f","title":"Price","labelOverlap":false}},"y2":{"field":"h"}}},
{"mark":{"type":"bar","size":1.8},"encoding":{"y":{"field":"o","type":"quantitative"},"y2":{"field":"c"},"color":{"condition":{"test":"datum.c >= datum.o","value":"#26a67a"},"value":"#ef5350"}}},
{"transform":[{"window":[{"op":"mean","field":"c","as":"ma"},{"op":"count","as":"n"}],"frame":[-4,0],"sort":[{"field":"i"}]},{"filter":"datum.n >= 5"}],"mark":{"type":"line","color":"#8aaed6","strokeWidth":0.6},"encoding":{"y":{"field":"ma","type":"quantitative"}}},
{"transform":[{"window":[{"op":"mean","field":"c","as":"ma"},{"op":"count","as":"n"}],"frame":[-9,0],"sort":[{"field":"i"}]},{"filter":"datum.n >= 10"}],"mark":{"type":"line","color":"#f2b27c","strokeWidth":0.6},"encoding":{"y":{"field":"ma","type":"quantitative"}}},
{"transform":[{"window":[{"op":"mean","field":"c","as":"ma"},{"op":"count","as":"n"}],"frame":[-19,0],"sort":[{"field":"i"}]},{"filter":"datum.n >= 20"}],"mark":{"type":"line","color":"#86c79a","strokeWidth":0.6},"encoding":{"y":{"field":"ma","type":"quantitative"}}}
]},
{"layer":[
{"mark":{"type":"bar","size":1.8,"opacity":0.75},"encoding":{"y":{"field":"v","type":"quantitative","scale":{"domain":[0,38.5],"range":[117,85],"nice":false},"axis":{"orient":"right","values":[10,20,30],"tickCount":20,"title":"Volume  1e7","labelOverlap":false}},"color":{"condition":{"test":"datum.c >= datum.o","value":"#26a67a"},"value":"#ef5350"}}},
{"data":{"values":[{"edge":38.5}]},"mark":{"type":"rule","color":"#c8c8c8","strokeWidth":0.8},"encoding":{"y":{"field":"edge","type":"quantitative"}}}
]}
],
"resolve":{"scale":{"y":"independent"},"axis":{"y":"independent"}}},
{"width":166,"height":117,"title":{"text":"ACTUSDT 1m 2.0","anchor":"middle","frame":"group","dx":-9,"offset":15},"data":{"name":"act"},
"encoding":{"x":{"field":"i","type":"quantitative","scale":{"domain":[-3.44,62.17],"nice":false,"zero":false},"axis":{"values":[0,10,20,30,40,50],"tickCount":20,"labelExpr":"['15:20','15:30','15:40','15:50','16:00','16:10'][datum.value/10]","labelAngle":-45,"labelAlign":"center","labelBaseline":"middle","labelPadding":3.5,"labelFontSize":2.6,"title":null,"grid":true}}},
"layer":[
{"layer":[
{"mark":{"type":"rule","color":"#a8a8a8","strokeWidth":0.5},"encoding":{"y":{"field":"l","type":"quantitative","scale":{"domain":[0.05497,0.05572],"range":[84,0],"nice":false,"zero":false},"axis":{"orient":"right","values":[0.055,0.0551,0.0552,0.0553,0.0554,0.0555,0.0556,0.0557],"tickCount":20,"format":".5f","title":"Price","labelOverlap":false}},"y2":{"field":"h"}}},
{"mark":{"type":"bar","size":1.8},"encoding":{"y":{"field":"o","type":"quantitative"},"y2":{"field":"c"},"color":{"condition":{"test":"datum.c >= datum.o","value":"#26a67a"},"value":"#ef5350"}}},
{"transform":[{"window":[{"op":"mean","field":"c","as":"ma"},{"op":"count","as":"n"}],"frame":[-4,0],"sort":[{"field":"i"}]},{"filter":"datum.n >= 5"}],"mark":{"type":"line","color":"#8aaed6","strokeWidth":0.6},"encoding":{"y":{"field":"ma","type":"quantitative"}}},
{"transform":[{"window":[{"op":"mean","field":"c","as":"ma"},{"op":"count","as":"n"}],"frame":[-9,0],"sort":[{"field":"i"}]},{"filter":"datum.n >= 10"}],"mark":{"type":"line","color":"#f2b27c","strokeWidth":0.6},"encoding":{"y":{"field":"ma","type":"quantitative"}}},
{"transform":[{"window":[{"op":"mean","field":"c","as":"ma"},{"op":"count","as":"n"}],"frame":[-19,0],"sort":[{"field":"i"}]},{"filter":"datum.n >= 20"}],"mark":{"type":"line","color":"#86c79a","strokeWidth":0.6},"encoding":{"y":{"field":"ma","type":"quantitative"}}}
]},
{"layer":[
{"mark":{"type":"bar","size":1.8,"opacity":0.75},"encoding":{"y":{"field":"v","type":"quantitative","scale":{"domain":[0,12.9],"range":[117,85],"nice":false},"axis":{"orient":"right","values":[2.5,5,7.5,10,12.5],"tickCount":20,"format":".1f","title":"Volume  1e7","labelOverlap":false}},"color":{"condition":{"test":"datum.c >= datum.o","value":"#26a67a"},"value":"#ef5350"}}},
{"data":{"values":[{"edge":12.9}]},"mark":{"type":"rule","color":"#c8c8c8","strokeWidth":0.8},"encoding":{"y":{"field":"edge","type":"quantitative"}}}
]}
],
"resolve":{"scale":{"y":"independent"},"axis":{"y":"independent"}}},
{"width":166,"height":117,"title":{"text":"MORPHOUSDT 1m 0.0","anchor":"middle","frame":"group","dx":-9,"offset":15},"data":{"name":"morpho"},
"encoding":{"x":{"field":"i","type":"quantitative","scale":{"domain":[-3.44,62.17],"nice":false,"zero":false},"axis":{"values":[0,10,20,30,40,50],"tickCount":20,"labelExpr":"['15:20','15:30','15:40','15:50','16:00','16:10'][datum.value/10]","labelAngle":-45,"labelAlign":"center","labelBaseline":"middle","labelPadding":3.5,"labelFontSize":2.6,"title":null,"grid":true}}},
"layer":[
{"layer":[
{"mark":{"type":"rule","color":"#a8a8a8","strokeWidth":0.5},"encoding":{"y":{"field":"l","type":"quantitative","scale":{"domain":[0.999918,1.000812],"range":[84,0],"nice":false,"zero":false},"axis":{"orient":"right","values":[1,1.0001,1.0002,1.0003,1.0004,1.0005,1.0006,1.0007,1.0008],"tickCount":20,"format":".5f","title":"Price","labelOverlap":false}},"y2":{"field":"h"}}},
{"mark":{"type":"bar","size":1.8},"encoding":{"y":{"field":"o","type":"quantitative"},"y2":{"field":"c"},"color":{"condition":{"test":"datum.c >= datum.o","value":"#26a67a"},"value":"#ef5350"}}},
{"transform":[{"window":[{"op":"mean","field":"c","as":"ma"},{"op":"count","as":"n"}],"frame":[-4,0],"sort":[{"field":"i"}]},{"filter":"datum.n >= 5"}],"mark":{"type":"line","color":"#8aaed6","strokeWidth":0.6},"encoding":{"y":{"field":"ma","type":"quantitative"}}},
{"transform":[{"window":[{"op":"mean","field":"c","as":"ma"},{"op":"count","as":"n"}],"frame":[-9,0],"sort":[{"field":"i"}]},{"filter":"datum.n >= 10"}],"mark":{"type":"line","color":"#f2b27c","strokeWidth":0.6},"encoding":{"y":{"field":"ma","type":"quantitative"}}},
{"transform":[{"window":[{"op":"mean","field":"c","as":"ma"},{"op":"count","as":"n"}],"frame":[-19,0],"sort":[{"field":"i"}]},{"filter":"datum.n >= 20"}],"mark":{"type":"line","color":"#86c79a","strokeWidth":0.6},"encoding":{"y":{"field":"ma","type":"quantitative"}}}
]},
{"layer":[
{"mark":{"type":"bar","size":1.8,"opacity":0.75},"encoding":{"y":{"field":"v","type":"quantitative","scale":{"domain":[0,505000],"range":[117,85],"nice":false},"axis":{"orient":"right","values":[100000,200000,300000,400000,500000],"tickCount":20,"format":"d","title":"Volume","labelOverlap":false}},"color":{"condition":{"test":"datum.c >= datum.o","value":"#26a67a"},"value":"#ef5350"}}},
{"data":{"values":[{"edge":505000}]},"mark":{"type":"rule","color":"#c8c8c8","strokeWidth":0.8},"encoding":{"y":{"field":"edge","type":"quantitative"}}}
]}
],
"resolve":{"scale":{"y":"independent"},"axis":{"y":"independent"}}},
{"width":166,"height":117,"title":{"text":"ARCUSDT 1m 0.0","anchor":"middle","frame":"group","dx":-9,"offset":15},"data":{"name":"arc"},
"encoding":{"x":{"field":"i","type":"quantitative","scale":{"domain":[-3.44,62.17],"nice":false,"zero":false},"axis":{"values":[0,10,20,30,40,50],"tickCount":20,"labelExpr":"['15:20','15:30','15:40','15:50','16:00','16:10'][datum.value/10]","labelAngle":-45,"labelAlign":"center","labelBaseline":"middle","labelPadding":3.5,"labelFontSize":2.6,"title":null,"grid":true}}},
"layer":[
{"layer":[
{"mark":{"type":"rule","color":"#a8a8a8","strokeWidth":0.5},"encoding":{"y":{"field":"l","type":"quantitative","scale":{"domain":[0.02497,0.02572],"range":[84,0],"nice":false,"zero":false},"axis":{"orient":"right","values":[0.025,0.0251,0.0252,0.0253,0.0254,0.0255,0.0256,0.0257],"tickCount":20,"format":".5f","title":"Price","labelOverlap":false}},"y2":{"field":"h"}}},
{"mark":{"type":"bar","size":1.8},"encoding":{"y":{"field":"o","type":"quantitative"},"y2":{"field":"c"},"color":{"condition":{"test":"datum.c >= datum.o","value":"#26a67a"},"value":"#ef5350"}}},
{"transform":[{"window":[{"op":"mean","field":"c","as":"ma"},{"op":"count","as":"n"}],"frame":[-4,0],"sort":[{"field":"i"}]},{"filter":"datum.n >= 5"}],"mark":{"type":"line","color":"#8aaed6","strokeWidth":0.6},"encoding":{"y":{"field":"ma","type":"quantitative"}}},
{"transform":[{"window":[{"op":"mean","field":"c","as":"ma"},{"op":"count","as":"n"}],"frame":[-9,0],"sort":[{"field":"i"}]},{"filter":"datum.n >= 10"}],"mark":{"type":"line","color":"#f2b27c","strokeWidth":0.6},"encoding":{"y":{"field":"ma","type":"quantitative"}}},
{"transform":[{"window":[{"op":"mean","field":"c","as":"ma"},{"op":"count","as":"n"}],"frame":[-19,0],"sort":[{"field":"i"}]},{"filter":"datum.n >= 20"}],"mark":{"type":"line","color":"#86c79a","strokeWidth":0.6},"encoding":{"y":{"field":"ma","type":"quantitative"}}}
]},
{"layer":[
{"mark":{"type":"bar","size":1.8,"opacity":0.75},"encoding":{"y":{"field":"v","type":"quantitative","scale":{"domain":[0,4.1],"range":[117,85],"nice":false},"axis":{"orient":"right","values":[1,2,3,4],"tickCount":20,"title":"Volume  1e7","labelOverlap":false}},"color":{"condition":{"test":"datum.c >= datum.o","value":"#26a67a"},"value":"#ef5350"}}},
{"data":{"values":[{"edge":4.1}]},"mark":{"type":"rule","color":"#c8c8c8","strokeWidth":0.8},"encoding":{"y":{"field":"edge","type":"quantitative"}}}
]}
],
"resolve":{"scale":{"y":"independent"},"axis":{"y":"independent"}}}
],
"config":{
"view":{"fill":"#fbfbfb","stroke":"#d4d4d4","strokeWidth":0.5},
"axis":{"labelFont":"DejaVu Sans","labelFontSize":2.3,"labelColor":"#222222","titleFont":"DejaVu Sans","titleFontSize":2.6,"titleFontWeight":"normal","titleColor":"#222222","tickSize":1.2,"tickWidth":0.4,"tickColor":"#555555","labelPadding":1,"titlePadding":1.5,"gridColor":"#e2e2e2","gridWidth":0.5,"domain":false,"labelFlush":false,"labelOverlap":false,"tickCount":20},
"title":{"font":"DejaVu Sans","fontSize":4.5,"fontWeight":"bold","color":"#000000"}
}
}
